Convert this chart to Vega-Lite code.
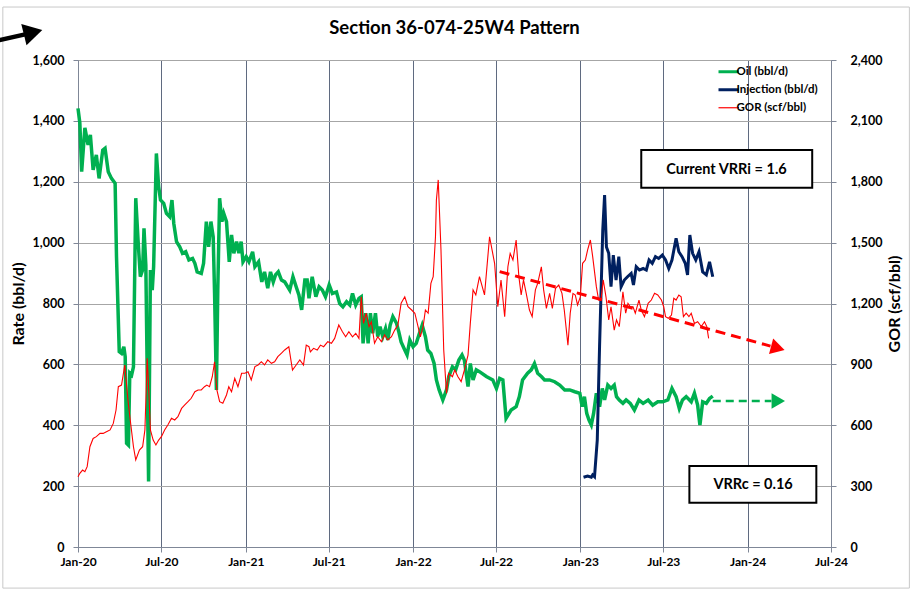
{
  "$schema": "https://vega.github.io/schema/vega-lite/v6.json",
  "width": 753,
  "height": 487,
  "autosize": {"type": "none"},
  "padding": {"left": 78, "top": 60, "right": 83, "bottom": 44},
  "background": "white",
  "title": {"text": "Section 36-074-25W4 Pattern", "fontSize": 18.5, "fontWeight": "bold", "font": "Lato", "color": "black", "anchor": "middle", "offset": -31},
  "datasets": {
    "oil": [
      {"date":"2020-01-01","value":1441,"series":"Oil (bbl/d)"},{"date":"2020-01-05","value":1393,"series":"Oil (bbl/d)"},{"date":"2020-01-09","value":1233,"series":"Oil (bbl/d)"},{"date":"2020-01-16","value":1377,"series":"Oil (bbl/d)"},{"date":"2020-01-23","value":1321,"series":"Oil (bbl/d)"},{"date":"2020-01-28","value":1354,"series":"Oil (bbl/d)"},{"date":"2020-02-03","value":1239,"series":"Oil (bbl/d)"},{"date":"2020-02-10","value":1288,"series":"Oil (bbl/d)"},{"date":"2020-02-16","value":1211,"series":"Oil (bbl/d)"},{"date":"2020-02-24","value":1304,"series":"Oil (bbl/d)"},{"date":"2020-02-29","value":1310,"series":"Oil (bbl/d)"},{"date":"2020-03-07","value":1233,"series":"Oil (bbl/d)"},{"date":"2020-03-14","value":1211,"series":"Oil (bbl/d)"},{"date":"2020-03-22","value":1195,"series":"Oil (bbl/d)"},{"date":"2020-03-25","value":954,"series":"Oil (bbl/d)"},{"date":"2020-03-31","value":642,"series":"Oil (bbl/d)"},{"date":"2020-04-05","value":636,"series":"Oil (bbl/d)"},{"date":"2020-04-10","value":658,"series":"Oil (bbl/d)"},{"date":"2020-04-13","value":625,"series":"Oil (bbl/d)"},{"date":"2020-04-16","value":341,"series":"Oil (bbl/d)"},{"date":"2020-04-20","value":335,"series":"Oil (bbl/d)"},{"date":"2020-04-23","value":571,"series":"Oil (bbl/d)"},{"date":"2020-04-27","value":565,"series":"Oil (bbl/d)"},{"date":"2020-05-01","value":592,"series":"Oil (bbl/d)"},{"date":"2020-05-06","value":1146,"series":"Oil (bbl/d)"},{"date":"2020-05-11","value":1009,"series":"Oil (bbl/d)"},{"date":"2020-05-16","value":888,"series":"Oil (bbl/d)"},{"date":"2020-05-21","value":910,"series":"Oil (bbl/d)"},{"date":"2020-05-24","value":1047,"series":"Oil (bbl/d)"},{"date":"2020-05-28","value":926,"series":"Oil (bbl/d)"},{"date":"2020-06-03","value":215,"series":"Oil (bbl/d)"},{"date":"2020-06-07","value":910,"series":"Oil (bbl/d)"},{"date":"2020-06-11","value":844,"series":"Oil (bbl/d)"},{"date":"2020-06-14","value":921,"series":"Oil (bbl/d)"},{"date":"2020-06-20","value":1293,"series":"Oil (bbl/d)"},{"date":"2020-06-25","value":1184,"series":"Oil (bbl/d)"},{"date":"2020-06-29","value":1140,"series":"Oil (bbl/d)"},{"date":"2020-07-06","value":1129,"series":"Oil (bbl/d)"},{"date":"2020-07-12","value":1096,"series":"Oil (bbl/d)"},{"date":"2020-07-19","value":1085,"series":"Oil (bbl/d)"},{"date":"2020-07-24","value":1140,"series":"Oil (bbl/d)"},{"date":"2020-07-28","value":1063,"series":"Oil (bbl/d)"},{"date":"2020-08-03","value":1003,"series":"Oil (bbl/d)"},{"date":"2020-08-10","value":986,"series":"Oil (bbl/d)"},{"date":"2020-08-16","value":965,"series":"Oil (bbl/d)"},{"date":"2020-08-23","value":970,"series":"Oil (bbl/d)"},{"date":"2020-08-30","value":943,"series":"Oil (bbl/d)"},{"date":"2020-09-07","value":948,"series":"Oil (bbl/d)"},{"date":"2020-09-12","value":932,"series":"Oil (bbl/d)"},{"date":"2020-09-17","value":904,"series":"Oil (bbl/d)"},{"date":"2020-09-26","value":899,"series":"Oil (bbl/d)"},{"date":"2020-10-01","value":932,"series":"Oil (bbl/d)"},{"date":"2020-10-07","value":1069,"series":"Oil (bbl/d)"},{"date":"2020-10-12","value":986,"series":"Oil (bbl/d)"},{"date":"2020-10-17","value":1069,"series":"Oil (bbl/d)"},{"date":"2020-10-22","value":1019,"series":"Oil (bbl/d)"},{"date":"2020-10-25","value":833,"series":"Oil (bbl/d)"},{"date":"2020-10-29","value":516,"series":"Oil (bbl/d)"},{"date":"2020-11-01","value":844,"series":"Oil (bbl/d)"},{"date":"2020-11-05","value":1146,"series":"Oil (bbl/d)"},{"date":"2020-11-10","value":1069,"series":"Oil (bbl/d)"},{"date":"2020-11-14","value":1096,"series":"Oil (bbl/d)"},{"date":"2020-11-20","value":1069,"series":"Oil (bbl/d)"},{"date":"2020-11-26","value":937,"series":"Oil (bbl/d)"},{"date":"2020-12-01","value":1025,"series":"Oil (bbl/d)"},{"date":"2020-12-06","value":965,"series":"Oil (bbl/d)"},{"date":"2020-12-12","value":1003,"series":"Oil (bbl/d)"},{"date":"2020-12-17","value":965,"series":"Oil (bbl/d)"},{"date":"2020-12-22","value":1003,"series":"Oil (bbl/d)"},{"date":"2020-12-26","value":937,"series":"Oil (bbl/d)"},{"date":"2021-01-02","value":954,"series":"Oil (bbl/d)"},{"date":"2021-01-08","value":937,"series":"Oil (bbl/d)"},{"date":"2021-01-16","value":970,"series":"Oil (bbl/d)"},{"date":"2021-01-21","value":921,"series":"Oil (bbl/d)"},{"date":"2021-01-29","value":937,"series":"Oil (bbl/d)"},{"date":"2021-02-05","value":871,"series":"Oil (bbl/d)"},{"date":"2021-02-11","value":904,"series":"Oil (bbl/d)"},{"date":"2021-02-18","value":850,"series":"Oil (bbl/d)"},{"date":"2021-02-24","value":904,"series":"Oil (bbl/d)"},{"date":"2021-03-02","value":871,"series":"Oil (bbl/d)"},{"date":"2021-03-07","value":894,"series":"Oil (bbl/d)"},{"date":"2021-03-13","value":904,"series":"Oil (bbl/d)"},{"date":"2021-03-20","value":877,"series":"Oil (bbl/d)"},{"date":"2021-03-27","value":871,"series":"Oil (bbl/d)"},{"date":"2021-04-07","value":844,"series":"Oil (bbl/d)"},{"date":"2021-04-14","value":888,"series":"Oil (bbl/d)"},{"date":"2021-04-21","value":855,"series":"Oil (bbl/d)"},{"date":"2021-04-27","value":828,"series":"Oil (bbl/d)"},{"date":"2021-05-03","value":779,"series":"Oil (bbl/d)"},{"date":"2021-05-10","value":877,"series":"Oil (bbl/d)"},{"date":"2021-05-15","value":877,"series":"Oil (bbl/d)"},{"date":"2021-05-19","value":817,"series":"Oil (bbl/d)"},{"date":"2021-05-26","value":888,"series":"Oil (bbl/d)"},{"date":"2021-06-03","value":822,"series":"Oil (bbl/d)"},{"date":"2021-06-10","value":855,"series":"Oil (bbl/d)"},{"date":"2021-06-17","value":844,"series":"Oil (bbl/d)"},{"date":"2021-06-24","value":822,"series":"Oil (bbl/d)"},{"date":"2021-07-02","value":861,"series":"Oil (bbl/d)"},{"date":"2021-07-09","value":833,"series":"Oil (bbl/d)"},{"date":"2021-07-18","value":838,"series":"Oil (bbl/d)"},{"date":"2021-07-25","value":800,"series":"Oil (bbl/d)"},{"date":"2021-08-01","value":789,"series":"Oil (bbl/d)"},{"date":"2021-08-09","value":806,"series":"Oil (bbl/d)"},{"date":"2021-08-16","value":795,"series":"Oil (bbl/d)"},{"date":"2021-08-22","value":833,"series":"Oil (bbl/d)"},{"date":"2021-08-29","value":795,"series":"Oil (bbl/d)"},{"date":"2021-09-05","value":817,"series":"Oil (bbl/d)"},{"date":"2021-09-10","value":822,"series":"Oil (bbl/d)"},{"date":"2021-09-14","value":669,"series":"Oil (bbl/d)"},{"date":"2021-09-20","value":768,"series":"Oil (bbl/d)"},{"date":"2021-09-25","value":669,"series":"Oil (bbl/d)"},{"date":"2021-09-30","value":768,"series":"Oil (bbl/d)"},{"date":"2021-10-05","value":702,"series":"Oil (bbl/d)"},{"date":"2021-10-11","value":768,"series":"Oil (bbl/d)"},{"date":"2021-10-16","value":691,"series":"Oil (bbl/d)"},{"date":"2021-10-21","value":724,"series":"Oil (bbl/d)"},{"date":"2021-10-27","value":691,"series":"Oil (bbl/d)"},{"date":"2021-11-02","value":718,"series":"Oil (bbl/d)"},{"date":"2021-11-07","value":680,"series":"Oil (bbl/d)"},{"date":"2021-11-12","value":729,"series":"Oil (bbl/d)"},{"date":"2021-11-18","value":757,"series":"Oil (bbl/d)"},{"date":"2021-11-26","value":735,"series":"Oil (bbl/d)"},{"date":"2021-12-01","value":707,"series":"Oil (bbl/d)"},{"date":"2021-12-06","value":674,"series":"Oil (bbl/d)"},{"date":"2021-12-14","value":647,"series":"Oil (bbl/d)"},{"date":"2021-12-19","value":631,"series":"Oil (bbl/d)"},{"date":"2021-12-25","value":680,"series":"Oil (bbl/d)"},{"date":"2022-01-01","value":658,"series":"Oil (bbl/d)"},{"date":"2022-01-08","value":669,"series":"Oil (bbl/d)"},{"date":"2022-01-15","value":702,"series":"Oil (bbl/d)"},{"date":"2022-01-21","value":729,"series":"Oil (bbl/d)"},{"date":"2022-01-28","value":691,"series":"Oil (bbl/d)"},{"date":"2022-02-02","value":647,"series":"Oil (bbl/d)"},{"date":"2022-02-09","value":636,"series":"Oil (bbl/d)"},{"date":"2022-02-16","value":603,"series":"Oil (bbl/d)"},{"date":"2022-02-21","value":549,"series":"Oil (bbl/d)"},{"date":"2022-02-27","value":516,"series":"Oil (bbl/d)"},{"date":"2022-03-07","value":483,"series":"Oil (bbl/d)"},{"date":"2022-03-15","value":516,"series":"Oil (bbl/d)"},{"date":"2022-03-20","value":560,"series":"Oil (bbl/d)"},{"date":"2022-03-28","value":592,"series":"Oil (bbl/d)"},{"date":"2022-04-04","value":582,"series":"Oil (bbl/d)"},{"date":"2022-04-11","value":614,"series":"Oil (bbl/d)"},{"date":"2022-04-18","value":631,"series":"Oil (bbl/d)"},{"date":"2022-04-23","value":614,"series":"Oil (bbl/d)"},{"date":"2022-05-01","value":527,"series":"Oil (bbl/d)"},{"date":"2022-05-06","value":603,"series":"Oil (bbl/d)"},{"date":"2022-05-12","value":549,"series":"Oil (bbl/d)"},{"date":"2022-05-19","value":582,"series":"Oil (bbl/d)"},{"date":"2022-05-26","value":576,"series":"Oil (bbl/d)"},{"date":"2022-06-10","value":560,"series":"Oil (bbl/d)"},{"date":"2022-06-24","value":549,"series":"Oil (bbl/d)"},{"date":"2022-07-02","value":521,"series":"Oil (bbl/d)"},{"date":"2022-07-09","value":554,"series":"Oil (bbl/d)"},{"date":"2022-07-16","value":549,"series":"Oil (bbl/d)"},{"date":"2022-07-23","value":423,"series":"Oil (bbl/d)"},{"date":"2022-08-03","value":450,"series":"Oil (bbl/d)"},{"date":"2022-08-14","value":461,"series":"Oil (bbl/d)"},{"date":"2022-08-21","value":494,"series":"Oil (bbl/d)"},{"date":"2022-08-28","value":549,"series":"Oil (bbl/d)"},{"date":"2022-09-08","value":571,"series":"Oil (bbl/d)"},{"date":"2022-09-16","value":582,"series":"Oil (bbl/d)"},{"date":"2022-09-23","value":603,"series":"Oil (bbl/d)"},{"date":"2022-09-30","value":571,"series":"Oil (bbl/d)"},{"date":"2022-10-08","value":560,"series":"Oil (bbl/d)"},{"date":"2022-10-15","value":549,"series":"Oil (bbl/d)"},{"date":"2022-10-26","value":549,"series":"Oil (bbl/d)"},{"date":"2022-11-06","value":543,"series":"Oil (bbl/d)"},{"date":"2022-11-17","value":532,"series":"Oil (bbl/d)"},{"date":"2022-11-28","value":516,"series":"Oil (bbl/d)"},{"date":"2022-12-09","value":516,"series":"Oil (bbl/d)"},{"date":"2022-12-20","value":510,"series":"Oil (bbl/d)"},{"date":"2022-12-31","value":505,"series":"Oil (bbl/d)"},{"date":"2023-01-05","value":461,"series":"Oil (bbl/d)"},{"date":"2023-01-10","value":494,"series":"Oil (bbl/d)"},{"date":"2023-01-15","value":439,"series":"Oil (bbl/d)"},{"date":"2023-01-20","value":417,"series":"Oil (bbl/d)"},{"date":"2023-01-25","value":401,"series":"Oil (bbl/d)"},{"date":"2023-01-30","value":439,"series":"Oil (bbl/d)"},{"date":"2023-02-05","value":505,"series":"Oil (bbl/d)"},{"date":"2023-02-12","value":461,"series":"Oil (bbl/d)"},{"date":"2023-02-18","value":521,"series":"Oil (bbl/d)"},{"date":"2023-02-23","value":483,"series":"Oil (bbl/d)"},{"date":"2023-03-02","value":532,"series":"Oil (bbl/d)"},{"date":"2023-03-09","value":521,"series":"Oil (bbl/d)"},{"date":"2023-03-16","value":532,"series":"Oil (bbl/d)"},{"date":"2023-03-21","value":494,"series":"Oil (bbl/d)"},{"date":"2023-03-27","value":483,"series":"Oil (bbl/d)"},{"date":"2023-04-04","value":472,"series":"Oil (bbl/d)"},{"date":"2023-04-11","value":483,"series":"Oil (bbl/d)"},{"date":"2023-04-20","value":472,"series":"Oil (bbl/d)"},{"date":"2023-04-29","value":450,"series":"Oil (bbl/d)"},{"date":"2023-05-09","value":483,"series":"Oil (bbl/d)"},{"date":"2023-05-18","value":472,"series":"Oil (bbl/d)"},{"date":"2023-05-29","value":483,"series":"Oil (bbl/d)"},{"date":"2023-06-08","value":466,"series":"Oil (bbl/d)"},{"date":"2023-06-19","value":477,"series":"Oil (bbl/d)"},{"date":"2023-06-30","value":477,"series":"Oil (bbl/d)"},{"date":"2023-07-11","value":483,"series":"Oil (bbl/d)"},{"date":"2023-07-20","value":521,"series":"Oil (bbl/d)"},{"date":"2023-07-29","value":494,"series":"Oil (bbl/d)"},{"date":"2023-08-05","value":455,"series":"Oil (bbl/d)"},{"date":"2023-08-12","value":483,"series":"Oil (bbl/d)"},{"date":"2023-08-20","value":494,"series":"Oil (bbl/d)"},{"date":"2023-08-31","value":477,"series":"Oil (bbl/d)"},{"date":"2023-09-07","value":505,"series":"Oil (bbl/d)"},{"date":"2023-09-14","value":466,"series":"Oil (bbl/d)"},{"date":"2023-09-19","value":401,"series":"Oil (bbl/d)"},{"date":"2023-09-25","value":477,"series":"Oil (bbl/d)"},{"date":"2023-10-03","value":472,"series":"Oil (bbl/d)"},{"date":"2023-10-10","value":488,"series":"Oil (bbl/d)"},{"date":"2023-10-17","value":496,"series":"Oil (bbl/d)"}
    ],
    "injection": [
      {"date":"2023-01-08","value":229,"series":"Injection (bbl/d)"},{"date":"2023-01-17","value":233,"series":"Injection (bbl/d)"},{"date":"2023-01-25","value":229,"series":"Injection (bbl/d)"},{"date":"2023-01-28","value":237,"series":"Injection (bbl/d)"},{"date":"2023-02-01","value":231,"series":"Injection (bbl/d)"},{"date":"2023-02-07","value":351,"series":"Injection (bbl/d)"},{"date":"2023-02-12","value":658,"series":"Injection (bbl/d)"},{"date":"2023-02-19","value":1041,"series":"Injection (bbl/d)"},{"date":"2023-02-23","value":1156,"series":"Injection (bbl/d)"},{"date":"2023-02-27","value":986,"series":"Injection (bbl/d)"},{"date":"2023-03-04","value":965,"series":"Injection (bbl/d)"},{"date":"2023-03-09","value":855,"series":"Injection (bbl/d)"},{"date":"2023-03-14","value":959,"series":"Injection (bbl/d)"},{"date":"2023-03-20","value":877,"series":"Injection (bbl/d)"},{"date":"2023-03-26","value":954,"series":"Injection (bbl/d)"},{"date":"2023-03-31","value":855,"series":"Injection (bbl/d)"},{"date":"2023-04-07","value":877,"series":"Injection (bbl/d)"},{"date":"2023-04-14","value":888,"series":"Injection (bbl/d)"},{"date":"2023-04-22","value":899,"series":"Injection (bbl/d)"},{"date":"2023-04-27","value":861,"series":"Injection (bbl/d)"},{"date":"2023-05-03","value":921,"series":"Injection (bbl/d)"},{"date":"2023-05-10","value":910,"series":"Injection (bbl/d)"},{"date":"2023-05-18","value":915,"series":"Injection (bbl/d)"},{"date":"2023-05-25","value":910,"series":"Injection (bbl/d)"},{"date":"2023-05-31","value":943,"series":"Injection (bbl/d)"},{"date":"2023-06-07","value":932,"series":"Injection (bbl/d)"},{"date":"2023-06-14","value":954,"series":"Injection (bbl/d)"},{"date":"2023-06-21","value":948,"series":"Injection (bbl/d)"},{"date":"2023-06-29","value":959,"series":"Injection (bbl/d)"},{"date":"2023-07-06","value":943,"series":"Injection (bbl/d)"},{"date":"2023-07-13","value":915,"series":"Injection (bbl/d)"},{"date":"2023-07-20","value":943,"series":"Injection (bbl/d)"},{"date":"2023-07-29","value":1014,"series":"Injection (bbl/d)"},{"date":"2023-08-04","value":970,"series":"Injection (bbl/d)"},{"date":"2023-08-11","value":954,"series":"Injection (bbl/d)"},{"date":"2023-08-18","value":932,"series":"Injection (bbl/d)"},{"date":"2023-08-23","value":894,"series":"Injection (bbl/d)"},{"date":"2023-08-28","value":1025,"series":"Injection (bbl/d)"},{"date":"2023-09-03","value":965,"series":"Injection (bbl/d)"},{"date":"2023-09-10","value":943,"series":"Injection (bbl/d)"},{"date":"2023-09-17","value":970,"series":"Injection (bbl/d)"},{"date":"2023-09-25","value":904,"series":"Injection (bbl/d)"},{"date":"2023-10-03","value":894,"series":"Injection (bbl/d)"},{"date":"2023-10-10","value":937,"series":"Injection (bbl/d)"},{"date":"2023-10-17","value":888,"series":"Injection (bbl/d)"}
    ],
    "gor": [
      {"date":"2020-01-01","value":346,"series":"GOR (scf/bbl)"},{"date":"2020-01-05","value":363,"series":"GOR (scf/bbl)"},{"date":"2020-01-11","value":379,"series":"GOR (scf/bbl)"},{"date":"2020-01-16","value":371,"series":"GOR (scf/bbl)"},{"date":"2020-01-21","value":396,"series":"GOR (scf/bbl)"},{"date":"2020-01-27","value":494,"series":"GOR (scf/bbl)"},{"date":"2020-02-03","value":535,"series":"GOR (scf/bbl)"},{"date":"2020-02-10","value":544,"series":"GOR (scf/bbl)"},{"date":"2020-02-18","value":560,"series":"GOR (scf/bbl)"},{"date":"2020-02-25","value":560,"series":"GOR (scf/bbl)"},{"date":"2020-03-03","value":568,"series":"GOR (scf/bbl)"},{"date":"2020-03-11","value":577,"series":"GOR (scf/bbl)"},{"date":"2020-03-18","value":609,"series":"GOR (scf/bbl)"},{"date":"2020-03-24","value":675,"series":"GOR (scf/bbl)"},{"date":"2020-03-29","value":790,"series":"GOR (scf/bbl)"},{"date":"2020-04-05","value":798,"series":"GOR (scf/bbl)"},{"date":"2020-04-12","value":897,"series":"GOR (scf/bbl)"},{"date":"2020-04-19","value":724,"series":"GOR (scf/bbl)"},{"date":"2020-04-24","value":626,"series":"GOR (scf/bbl)"},{"date":"2020-05-01","value":494,"series":"GOR (scf/bbl)"},{"date":"2020-05-06","value":429,"series":"GOR (scf/bbl)"},{"date":"2020-05-14","value":478,"series":"GOR (scf/bbl)"},{"date":"2020-05-21","value":494,"series":"GOR (scf/bbl)"},{"date":"2020-05-26","value":577,"series":"GOR (scf/bbl)"},{"date":"2020-05-31","value":930,"series":"GOR (scf/bbl)"},{"date":"2020-06-04","value":741,"series":"GOR (scf/bbl)"},{"date":"2020-06-07","value":577,"series":"GOR (scf/bbl)"},{"date":"2020-06-13","value":527,"series":"GOR (scf/bbl)"},{"date":"2020-06-19","value":503,"series":"GOR (scf/bbl)"},{"date":"2020-06-25","value":527,"series":"GOR (scf/bbl)"},{"date":"2020-07-01","value":544,"series":"GOR (scf/bbl)"},{"date":"2020-07-08","value":577,"series":"GOR (scf/bbl)"},{"date":"2020-07-15","value":601,"series":"GOR (scf/bbl)"},{"date":"2020-07-23","value":634,"series":"GOR (scf/bbl)"},{"date":"2020-07-30","value":626,"series":"GOR (scf/bbl)"},{"date":"2020-08-06","value":642,"series":"GOR (scf/bbl)"},{"date":"2020-08-14","value":683,"series":"GOR (scf/bbl)"},{"date":"2020-08-21","value":700,"series":"GOR (scf/bbl)"},{"date":"2020-08-28","value":716,"series":"GOR (scf/bbl)"},{"date":"2020-09-04","value":733,"series":"GOR (scf/bbl)"},{"date":"2020-09-12","value":765,"series":"GOR (scf/bbl)"},{"date":"2020-09-19","value":774,"series":"GOR (scf/bbl)"},{"date":"2020-09-26","value":774,"series":"GOR (scf/bbl)"},{"date":"2020-10-03","value":790,"series":"GOR (scf/bbl)"},{"date":"2020-10-08","value":798,"series":"GOR (scf/bbl)"},{"date":"2020-10-14","value":790,"series":"GOR (scf/bbl)"},{"date":"2020-10-20","value":839,"series":"GOR (scf/bbl)"},{"date":"2020-10-25","value":913,"series":"GOR (scf/bbl)"},{"date":"2020-10-30","value":774,"series":"GOR (scf/bbl)"},{"date":"2020-11-05","value":716,"series":"GOR (scf/bbl)"},{"date":"2020-11-12","value":708,"series":"GOR (scf/bbl)"},{"date":"2020-11-20","value":749,"series":"GOR (scf/bbl)"},{"date":"2020-11-25","value":790,"series":"GOR (scf/bbl)"},{"date":"2020-12-01","value":765,"series":"GOR (scf/bbl)"},{"date":"2020-12-08","value":831,"series":"GOR (scf/bbl)"},{"date":"2020-12-15","value":790,"series":"GOR (scf/bbl)"},{"date":"2020-12-23","value":856,"series":"GOR (scf/bbl)"},{"date":"2020-12-30","value":856,"series":"GOR (scf/bbl)"},{"date":"2021-01-06","value":864,"series":"GOR (scf/bbl)"},{"date":"2021-01-13","value":823,"series":"GOR (scf/bbl)"},{"date":"2021-01-21","value":889,"series":"GOR (scf/bbl)"},{"date":"2021-01-28","value":897,"series":"GOR (scf/bbl)"},{"date":"2021-02-04","value":913,"series":"GOR (scf/bbl)"},{"date":"2021-02-11","value":897,"series":"GOR (scf/bbl)"},{"date":"2021-02-18","value":922,"series":"GOR (scf/bbl)"},{"date":"2021-02-26","value":905,"series":"GOR (scf/bbl)"},{"date":"2021-03-05","value":913,"series":"GOR (scf/bbl)"},{"date":"2021-03-12","value":938,"series":"GOR (scf/bbl)"},{"date":"2021-03-20","value":955,"series":"GOR (scf/bbl)"},{"date":"2021-03-27","value":971,"series":"GOR (scf/bbl)"},{"date":"2021-04-05","value":987,"series":"GOR (scf/bbl)"},{"date":"2021-04-13","value":872,"series":"GOR (scf/bbl)"},{"date":"2021-04-21","value":897,"series":"GOR (scf/bbl)"},{"date":"2021-04-29","value":922,"series":"GOR (scf/bbl)"},{"date":"2021-05-07","value":897,"series":"GOR (scf/bbl)"},{"date":"2021-05-13","value":995,"series":"GOR (scf/bbl)"},{"date":"2021-05-19","value":987,"series":"GOR (scf/bbl)"},{"date":"2021-05-22","value":962,"series":"GOR (scf/bbl)"},{"date":"2021-05-29","value":979,"series":"GOR (scf/bbl)"},{"date":"2021-06-06","value":971,"series":"GOR (scf/bbl)"},{"date":"2021-06-13","value":995,"series":"GOR (scf/bbl)"},{"date":"2021-06-20","value":987,"series":"GOR (scf/bbl)"},{"date":"2021-06-29","value":1012,"series":"GOR (scf/bbl)"},{"date":"2021-07-07","value":1004,"series":"GOR (scf/bbl)"},{"date":"2021-07-14","value":1028,"series":"GOR (scf/bbl)"},{"date":"2021-07-23","value":1094,"series":"GOR (scf/bbl)"},{"date":"2021-07-31","value":1061,"series":"GOR (scf/bbl)"},{"date":"2021-08-07","value":1036,"series":"GOR (scf/bbl)"},{"date":"2021-08-14","value":1061,"series":"GOR (scf/bbl)"},{"date":"2021-08-22","value":1036,"series":"GOR (scf/bbl)"},{"date":"2021-08-29","value":1053,"series":"GOR (scf/bbl)"},{"date":"2021-09-05","value":1028,"series":"GOR (scf/bbl)"},{"date":"2021-09-10","value":1233,"series":"GOR (scf/bbl)"},{"date":"2021-09-15","value":1102,"series":"GOR (scf/bbl)"},{"date":"2021-09-21","value":1152,"series":"GOR (scf/bbl)"},{"date":"2021-09-27","value":1086,"series":"GOR (scf/bbl)"},{"date":"2021-10-02","value":1110,"series":"GOR (scf/bbl)"},{"date":"2021-10-09","value":1004,"series":"GOR (scf/bbl)"},{"date":"2021-10-16","value":1036,"series":"GOR (scf/bbl)"},{"date":"2021-10-24","value":1012,"series":"GOR (scf/bbl)"},{"date":"2021-10-31","value":1045,"series":"GOR (scf/bbl)"},{"date":"2021-11-07","value":1020,"series":"GOR (scf/bbl)"},{"date":"2021-11-15","value":1036,"series":"GOR (scf/bbl)"},{"date":"2021-11-22","value":1069,"series":"GOR (scf/bbl)"},{"date":"2021-11-29","value":1094,"series":"GOR (scf/bbl)"},{"date":"2021-12-06","value":1201,"series":"GOR (scf/bbl)"},{"date":"2021-12-14","value":1233,"series":"GOR (scf/bbl)"},{"date":"2021-12-21","value":1184,"series":"GOR (scf/bbl)"},{"date":"2021-12-29","value":1168,"series":"GOR (scf/bbl)"},{"date":"2022-01-05","value":1152,"series":"GOR (scf/bbl)"},{"date":"2022-01-12","value":1086,"series":"GOR (scf/bbl)"},{"date":"2022-01-17","value":1036,"series":"GOR (scf/bbl)"},{"date":"2022-01-23","value":1086,"series":"GOR (scf/bbl)"},{"date":"2022-01-28","value":1168,"series":"GOR (scf/bbl)"},{"date":"2022-02-03","value":1152,"series":"GOR (scf/bbl)"},{"date":"2022-02-09","value":1299,"series":"GOR (scf/bbl)"},{"date":"2022-02-14","value":1332,"series":"GOR (scf/bbl)"},{"date":"2022-02-19","value":1529,"series":"GOR (scf/bbl)"},{"date":"2022-02-21","value":1710,"series":"GOR (scf/bbl)"},{"date":"2022-02-25","value":1809,"series":"GOR (scf/bbl)"},{"date":"2022-03-03","value":1464,"series":"GOR (scf/bbl)"},{"date":"2022-03-09","value":971,"series":"GOR (scf/bbl)"},{"date":"2022-03-15","value":757,"series":"GOR (scf/bbl)"},{"date":"2022-03-20","value":856,"series":"GOR (scf/bbl)"},{"date":"2022-03-28","value":839,"series":"GOR (scf/bbl)"},{"date":"2022-04-02","value":872,"series":"GOR (scf/bbl)"},{"date":"2022-04-09","value":839,"series":"GOR (scf/bbl)"},{"date":"2022-04-16","value":815,"series":"GOR (scf/bbl)"},{"date":"2022-04-23","value":872,"series":"GOR (scf/bbl)"},{"date":"2022-05-01","value":946,"series":"GOR (scf/bbl)"},{"date":"2022-05-06","value":1102,"series":"GOR (scf/bbl)"},{"date":"2022-05-12","value":1267,"series":"GOR (scf/bbl)"},{"date":"2022-05-18","value":1242,"series":"GOR (scf/bbl)"},{"date":"2022-05-23","value":1299,"series":"GOR (scf/bbl)"},{"date":"2022-05-26","value":1332,"series":"GOR (scf/bbl)"},{"date":"2022-06-06","value":1242,"series":"GOR (scf/bbl)"},{"date":"2022-06-17","value":1529,"series":"GOR (scf/bbl)"},{"date":"2022-06-28","value":1398,"series":"GOR (scf/bbl)"},{"date":"2022-07-05","value":1184,"series":"GOR (scf/bbl)"},{"date":"2022-07-12","value":1316,"series":"GOR (scf/bbl)"},{"date":"2022-07-20","value":1135,"series":"GOR (scf/bbl)"},{"date":"2022-07-27","value":1381,"series":"GOR (scf/bbl)"},{"date":"2022-08-01","value":1447,"series":"GOR (scf/bbl)"},{"date":"2022-08-07","value":1414,"series":"GOR (scf/bbl)"},{"date":"2022-08-14","value":1513,"series":"GOR (scf/bbl)"},{"date":"2022-08-20","value":1332,"series":"GOR (scf/bbl)"},{"date":"2022-08-25","value":1242,"series":"GOR (scf/bbl)"},{"date":"2022-08-30","value":1316,"series":"GOR (scf/bbl)"},{"date":"2022-09-05","value":1250,"series":"GOR (scf/bbl)"},{"date":"2022-09-12","value":1168,"series":"GOR (scf/bbl)"},{"date":"2022-09-18","value":1135,"series":"GOR (scf/bbl)"},{"date":"2022-09-25","value":1267,"series":"GOR (scf/bbl)"},{"date":"2022-09-30","value":1299,"series":"GOR (scf/bbl)"},{"date":"2022-10-08","value":1381,"series":"GOR (scf/bbl)"},{"date":"2022-10-13","value":1267,"series":"GOR (scf/bbl)"},{"date":"2022-10-19","value":1176,"series":"GOR (scf/bbl)"},{"date":"2022-10-26","value":1250,"series":"GOR (scf/bbl)"},{"date":"2022-11-01","value":1176,"series":"GOR (scf/bbl)"},{"date":"2022-11-08","value":1275,"series":"GOR (scf/bbl)"},{"date":"2022-11-15","value":1291,"series":"GOR (scf/bbl)"},{"date":"2022-11-22","value":1250,"series":"GOR (scf/bbl)"},{"date":"2022-11-27","value":1168,"series":"GOR (scf/bbl)"},{"date":"2022-12-05","value":995,"series":"GOR (scf/bbl)"},{"date":"2022-12-10","value":1152,"series":"GOR (scf/bbl)"},{"date":"2022-12-16","value":1250,"series":"GOR (scf/bbl)"},{"date":"2022-12-21","value":1242,"series":"GOR (scf/bbl)"},{"date":"2022-12-26","value":1193,"series":"GOR (scf/bbl)"},{"date":"2023-01-01","value":1233,"series":"GOR (scf/bbl)"},{"date":"2023-01-06","value":1398,"series":"GOR (scf/bbl)"},{"date":"2023-01-12","value":1414,"series":"GOR (scf/bbl)"},{"date":"2023-01-17","value":1464,"series":"GOR (scf/bbl)"},{"date":"2023-01-23","value":1513,"series":"GOR (scf/bbl)"},{"date":"2023-01-28","value":1431,"series":"GOR (scf/bbl)"},{"date":"2023-02-05","value":1283,"series":"GOR (scf/bbl)"},{"date":"2023-02-10","value":1217,"series":"GOR (scf/bbl)"},{"date":"2023-02-15","value":1217,"series":"GOR (scf/bbl)"},{"date":"2023-02-20","value":1316,"series":"GOR (scf/bbl)"},{"date":"2023-02-26","value":1233,"series":"GOR (scf/bbl)"},{"date":"2023-03-04","value":1119,"series":"GOR (scf/bbl)"},{"date":"2023-03-09","value":1184,"series":"GOR (scf/bbl)"},{"date":"2023-03-16","value":1069,"series":"GOR (scf/bbl)"},{"date":"2023-03-21","value":1119,"series":"GOR (scf/bbl)"},{"date":"2023-03-27","value":1086,"series":"GOR (scf/bbl)"},{"date":"2023-04-04","value":1258,"series":"GOR (scf/bbl)"},{"date":"2023-04-10","value":1152,"series":"GOR (scf/bbl)"},{"date":"2023-04-15","value":1201,"series":"GOR (scf/bbl)"},{"date":"2023-04-20","value":1184,"series":"GOR (scf/bbl)"},{"date":"2023-04-26","value":1184,"series":"GOR (scf/bbl)"},{"date":"2023-05-01","value":1152,"series":"GOR (scf/bbl)"},{"date":"2023-05-09","value":1217,"series":"GOR (scf/bbl)"},{"date":"2023-05-14","value":1168,"series":"GOR (scf/bbl)"},{"date":"2023-05-21","value":1135,"series":"GOR (scf/bbl)"},{"date":"2023-05-29","value":1201,"series":"GOR (scf/bbl)"},{"date":"2023-06-05","value":1217,"series":"GOR (scf/bbl)"},{"date":"2023-06-12","value":1250,"series":"GOR (scf/bbl)"},{"date":"2023-06-19","value":1242,"series":"GOR (scf/bbl)"},{"date":"2023-06-27","value":1217,"series":"GOR (scf/bbl)"},{"date":"2023-07-02","value":1184,"series":"GOR (scf/bbl)"},{"date":"2023-07-06","value":1135,"series":"GOR (scf/bbl)"},{"date":"2023-07-12","value":1127,"series":"GOR (scf/bbl)"},{"date":"2023-07-19","value":1143,"series":"GOR (scf/bbl)"},{"date":"2023-07-24","value":1226,"series":"GOR (scf/bbl)"},{"date":"2023-07-29","value":1217,"series":"GOR (scf/bbl)"},{"date":"2023-08-04","value":1242,"series":"GOR (scf/bbl)"},{"date":"2023-08-09","value":1233,"series":"GOR (scf/bbl)"},{"date":"2023-08-14","value":1135,"series":"GOR (scf/bbl)"},{"date":"2023-08-20","value":1152,"series":"GOR (scf/bbl)"},{"date":"2023-08-26","value":1135,"series":"GOR (scf/bbl)"},{"date":"2023-08-31","value":1152,"series":"GOR (scf/bbl)"},{"date":"2023-09-07","value":1102,"series":"GOR (scf/bbl)"},{"date":"2023-09-14","value":1110,"series":"GOR (scf/bbl)"},{"date":"2023-09-22","value":1086,"series":"GOR (scf/bbl)"},{"date":"2023-09-29","value":1110,"series":"GOR (scf/bbl)"},{"date":"2023-10-04","value":1086,"series":"GOR (scf/bbl)"},{"date":"2023-10-08","value":1028,"series":"GOR (scf/bbl)"}
    ],
    "oiltrend": [{"date":"2023-10-17","value":480},{"date":"2024-02-22","value":480}],
    "oilarrow": [{"date":"2024-03-08","value":480}],
    "gortrend": [{"date":"2022-07-09","value":1357},{"date":"2024-02-20","value":990}],
    "gorarrow": [{"date":"2024-03-07","value":980}],
    "boxes": [
      {"date":"2023-05-14","date2":"2024-05-21","value":1304,"value2":1180},
      {"date":"2023-08-27","date2":"2024-05-30","value":266,"value2":145}
    ],
    "boxlabels": [
      {"date":"2023-11-16","value":1240,"label":"Current VRRi = 1.6"},
      {"date":"2024-01-13","value":204,"label":"VRRc = 0.16"}
    ],
    "frame": [{"date":"2019-07-21","date2":"2024-12-19","value":1774,"value2":-135}],
    "corner": [{"date":"2019-07-10","value":1664},{"date":"2019-09-10","value":1685}],
    "cornerhead": [{"date":"2019-09-25","value":1691}]
  },
  "encoding": {
    "x": {
      "field": "date", "type": "temporal",
      "scale": {"type": "utc", "nice": false, "domain": [{"year":2020,"month":1,"date":1,"utc":true},{"year":2024,"month":7,"date":1,"utc":true}]},
      "axis": {
        "title": null,
        "values": [{"year":2020,"month":1,"date":1,"utc":true},{"year":2020,"month":7,"date":1,"utc":true},{"year":2021,"month":1,"date":1,"utc":true},{"year":2021,"month":7,"date":1,"utc":true},{"year":2022,"month":1,"date":1,"utc":true},{"year":2022,"month":7,"date":1,"utc":true},{"year":2023,"month":1,"date":1,"utc":true},{"year":2023,"month":7,"date":1,"utc":true},{"year":2024,"month":1,"date":1,"utc":true},{"year":2024,"month":7,"date":1,"utc":true}],
        "labelExpr": "utcFormat(datum.value, '%b-%y')",
        "grid": true, "gridColor": "#5F6A80", "gridWidth": 1,
        "domainColor": "#7F8797", "tickColor": "#7F8797", "tickSize": 5,
        "labelPadding": 4, "labelFontSize": 12, "labelFlush": false, "labelOverlap": false
      }
    }
  },
  "layer": [
    {
      "encoding": {
        "y": {
          "field": "value", "type": "quantitative",
          "scale": {"domain": [0, 1600], "nice": false},
          "axis": {
            "title": "Rate (bbl/d)", "values": [0,200,400,600,800,1000,1200,1400,1600], "format": ",.0f",
            "grid": true, "gridColor": "#A6A6A6", "gridWidth": 1,
            "domainColor": "#7F8797", "tickColor": "#7F8797", "tickSize": 5,
            "labelPadding": 9, "titlePadding": 6, "labelFontSize": 12.5, "titleFontSize": 16
          }
        }
      },
      "layer": [
        {"data": {"name": "frame"}, "mark": {"type": "rect", "filled": false, "stroke": "#C8C8C8", "strokeWidth": 1}, "encoding": {"x2": {"field": "date2"}, "y2": {"field": "value2"}}},
        {"data": {"name": "corner"}, "mark": {"type": "line", "color": "black", "strokeWidth": 4.5}, "encoding": {}},
        {"data": {"name": "cornerhead"}, "mark": {"type": "point", "shape": "triangle-right", "filled": true, "color": "black", "size": 480, "opacity": 1, "angle": -14}, "encoding": {}},
        {"data": {"name": "oil"}, "mark": {"type": "line", "strokeWidth": 3.5},
          "encoding": {
            "color": {"field": "series", "type": "nominal",
              "scale": {"domain": ["Oil (bbl/d)", "Injection (bbl/d)", "GOR (scf/bbl)"], "range": ["#00B050", "#002060", "#FF0000"]},
              "legend": {"orient": "none", "legendX": 645, "legendY": 6, "title": null, "symbolType": "stroke", "symbolSize": 420, "symbolStrokeWidth": 3, "labelFontSize": 11.5, "labelFont": "Lato", "labelFontWeight": "bold", "labelColor": "black", "rowPadding": 5, "labelOffset": 2, "padding": 0,
                "encode": {"symbols": {"update": {"strokeWidth": {"signal": "datum.value === 'GOR (scf/bbl)' ? 1.2 : 3"}}}}}}
          }
        },
        {"data": {"name": "injection"}, "mark": {"type": "line", "strokeWidth": 3},
          "encoding": {"color": {"field": "series", "type": "nominal"}}
        },
        {"data": {"name": "oiltrend"}, "mark": {"type": "line", "color": "#00B050", "strokeWidth": 2.5, "strokeDash": [8, 5]}, "encoding": {}},
        {"data": {"name": "oilarrow"}, "mark": {"type": "point", "shape": "triangle-right", "filled": true, "color": "#00B050", "size": 240, "opacity": 1}, "encoding": {}},
        {"data": {"name": "boxes"}, "mark": {"type": "rect", "fill": "white", "stroke": "black", "strokeWidth": 2}, "encoding": {"x2": {"field": "date2"}, "y2": {"field": "value2"}}},
        {"data": {"name": "boxlabels"}, "mark": {"type": "text", "font": "Lato", "fontWeight": "bold", "fontSize": 14.5, "color": "black", "align": "center", "baseline": "middle"}, "encoding": {"text": {"field": "label"}}}
      ]
    },
    {
      "encoding": {
        "y": {
          "field": "value", "type": "quantitative",
          "scale": {"domain": [0, 2400], "nice": false},
          "axis": {
            "orient": "right", "title": "GOR (scf/bbl)", "values": [0,300,600,900,1200,1500,1800,2100,2400], "format": ",.0f",
            "grid": false, "domainColor": "#7F8797", "tickColor": "#7F8797", "tickSize": 5,
            "labelPadding": 14, "titlePadding": 5, "titleAngle": 270, "titleBaseline": "top", "labelFontSize": 12.5, "titleFontSize": 16
          }
        }
      },
      "layer": [
        {"data": {"name": "gor"}, "mark": {"type": "line", "strokeWidth": 1.1},
          "encoding": {"color": {"field": "series", "type": "nominal"}}
        },
        {"data": {"name": "gortrend"}, "mark": {"type": "line", "color": "#FF0000", "strokeWidth": 3, "strokeDash": [10, 6]}, "encoding": {}},
        {"data": {"name": "gorarrow"}, "mark": {"type": "point", "shape": "triangle-right", "filled": true, "color": "#FF0000", "size": 260, "opacity": 1, "angle": 15}, "encoding": {}}
      ]
    }
  ],
  "resolve": {"scale": {"y": "independent"}},
  "config": {
    "font": "Lato",
    "view": {"stroke": null},
    "axis": {"labelFont": "Lato", "labelFontWeight": "bold", "labelColor": "black", "titleFont": "Lato", "titleFontWeight": "bold", "titleColor": "black"},
    "title": {"font": "Lato"}
  }
}
